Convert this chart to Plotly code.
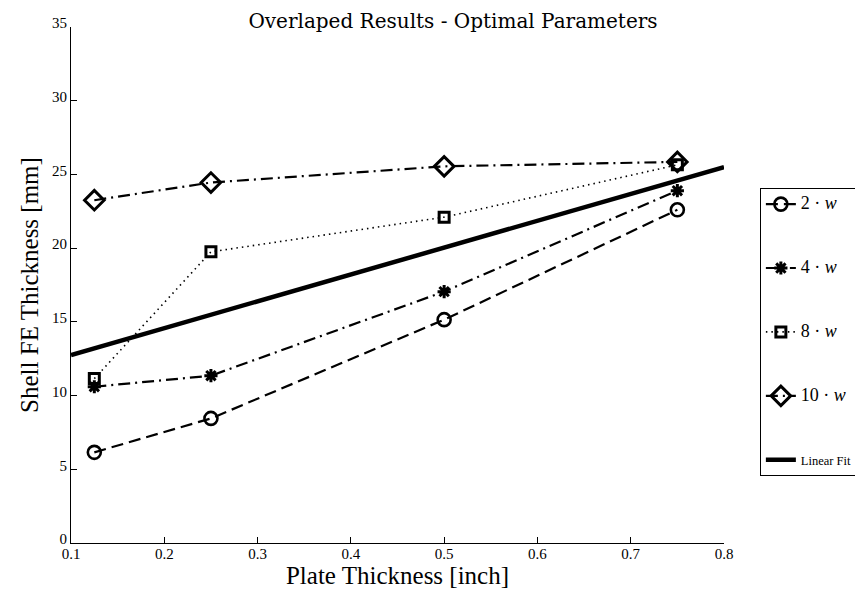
import plotly.graph_objects as go

x_vals = [0.125, 0.25, 0.5, 0.75]
y_2w = [6.15, 8.45, 15.15, 22.6]
y_4w = [10.6, 11.35, 17.05, 23.9]
y_8w = [11.15, 19.75, 22.1, 25.65]
y_10w = [23.25, 24.45, 25.55, 25.85]
fit_x = [0.1, 0.8]
fit_y = [12.75, 25.5]

x_ticks = [0.1, 0.2, 0.3, 0.4, 0.5, 0.6, 0.7, 0.8]
y_ticks = [0, 5, 10, 15, 20, 25, 30, 35]

FONT = "Liberation Serif"
BIG = '<span style="font-size:18px">%s · <i>w</i></span>'

fig = go.Figure()
series = [
    ("2", y_2w, "12px,6px", 2.2, dict(symbol="circle-open", size=13, line=dict(width=2.6, color="black"))),
    ("4", y_4w, "12px,5px,2px,5px", 2.2, dict(symbol="asterisk-open", size=11, line=dict(width=3, color="black"))),
    ("8", y_8w, "1.5px,4px", 1.6, dict(symbol="square-open", size=10, line=dict(width=3, color="black"))),
    ("10", y_10w, "12px,5px,2px,5px", 2.2, dict(symbol="diamond-open", size=15, line=dict(width=3, color="black"))),
]
for i, (lab, ys, dash, lw, mk) in enumerate(series):
    fig.add_trace(go.Scatter(
        x=x_vals, y=ys, mode="lines+markers", name=BIG % lab,
        line=dict(color="black", width=lw, dash=dash), marker=mk,
        legendgroup="g%d" % i,
    ))
fig.add_trace(go.Scatter(
    x=fit_x, y=fit_y, mode="lines", name='<span style="font-size:12.5px">Linear Fit</span>',
    line=dict(color="black", width=4.5), legendgroup="fit",
))

fig.update_layout(
    width=863, height=592,
    margin=dict(l=63, r=147, t=19, b=57, autoexpand=False),
    paper_bgcolor="white", plot_bgcolor="white",
    font=dict(family=FONT, color="black", size=14),
    title=dict(text="Overlaped Results - Optimal Parameters", x=0.585, xref="paper",
               xanchor="center", y=0.99, yanchor="top", yref="container",
               font=dict(size=20, family="DejaVu Serif")),
    legend=dict(x=0.871, xref="container", xanchor="left", y=0.696, yref="container",
                yanchor="top",
                bordercolor="black", borderwidth=1.2, bgcolor="white",
                font=dict(size=13, family=FONT), tracegroupgap=44,
                itemwidth=30),
    showlegend=True,
)
fig.update_xaxes(range=[0.1, 0.8], tickvals=x_ticks, ticktext=[str(t) for t in x_ticks],
                 showline=True, linecolor="black", linewidth=1, ticks="inside", ticklen=6,
                 tickcolor="black", showgrid=False, zeroline=False, ticklabelstandoff=-3,
                 title=dict(text="Plate Thickness [inch]", font=dict(size=25), standoff=0),
                 tickfont=dict(size=15))
fig.update_yaxes(range=[0, 35], tickvals=y_ticks, ticktext=[str(t) for t in y_ticks],
                 showline=True, linecolor="black", linewidth=1, ticks="inside", ticklen=6,
                 tickcolor="black", showgrid=False, zeroline=False, ticklabelshift=-4,
                 title=dict(text="Shell FE Thickness [mm]", font=dict(size=25), standoff=6),
                 tickfont=dict(size=15))

fig.write_html("out.html")
